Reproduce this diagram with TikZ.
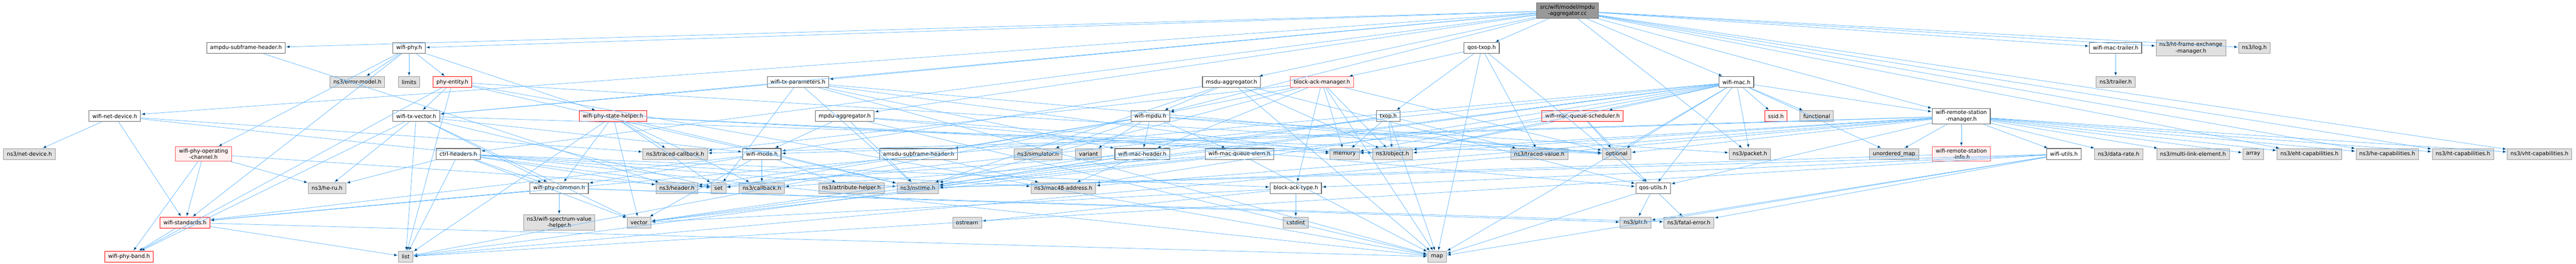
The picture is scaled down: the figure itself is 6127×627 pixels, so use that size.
\documentclass[tikz,border=0pt]{standalone}
\usepackage{fontspec}
\setmainfont{DejaVu Sans}
\usetikzlibrary{arrows.meta}

\definecolor{edgeblue}{HTML}{63B8FF}
\definecolor{boxgrey}{HTML}{666666}
\definecolor{extgrey}{HTML}{999999}
\definecolor{extfill}{HTML}{E0E0E0}
\definecolor{trunfill}{HTML}{FFF0F0}
\definecolor{trunred}{HTML}{FF0000}
\definecolor{trunpink}{HTML}{F85656}

\tikzset{
	hfile/.style={draw=boxgrey, fill=white, line width=1.1pt, inner xsep=6pt, inner ysep=3.5pt,
		minimum height=19.5pt, align=center, font=\fontsize{9.6}{11.5}\selectfont},
	sysfile/.style={hfile, draw=extgrey, fill=extfill, line width=0.8pt},
	trunfile/.style={hfile, draw=trunred, fill=trunfill, line width=0.8pt},
	trunfile2/.style={hfile, draw=trunpink, fill=trunfill, line width=0.8pt},
	rootfile/.style={hfile, draw=boxgrey, fill=extgrey, line width=0.8pt},
	dep/.style={draw=edgeblue, line width=0.7pt, -{Latex[length=7.5pt,width=5.5pt]}}
}

\begin{document}
\begin{tikzpicture}[x=0.75pt, y=-0.75pt]
			%%%%% START %%%%%
			
			\useasboundingbox[fill=white] (0, 0) rectangle (6127, 627);
			
			% rank 0
			\node[rootfile] (R) at (3728, 25) {src/wifi/model/mpdu\\-aggregator.cc};
			
			% rank 1
			\node[hfile] (ampdu) at (585, 114) {ampdu-subframe-header.h};
			\node[hfile] (wphy) at (973, 114) {wifi-phy.h};
			\node[hfile] (qtxop) at (3524, 114) {qos-txop.h};
			\node[hfile] (trailerh) at (5032, 114) {wifi-mac-trailer.h};
			\node[sysfile] (htfem) at (5211, 114) {ns3/ht-frame-exchange\\-manager.h};
			\node[sysfile] (log) at (5362, 114) {ns3/log.h};
			
			% rank 2
			\node[sysfile] (errm) at (850, 195) {ns3/error-model.h};
			\node[sysfile] (lim) at (973, 195) {limits};
			\node[trunfile] (phyent) at (1076, 195) {phy-entity.h};
			\node[hfile] (txpar) at (1898, 195) {wifi-tx-parameters.h};
			\node[hfile] (msdua) at (2929, 195) {msdu-aggregator.h};
			\node[trunfile2] (bam) at (3144, 195) {block-ack-manager.h};
			\node[hfile] (wmac) at (4130, 195) {wifi-mac.h};
			\node[sysfile] (trailer) at (5032, 195) {ns3/trailer.h};
			
			% rank 3
			\node[hfile] (wnd) at (273, 276) {wifi-net-device.h};
			\node[hfile] (txvec) at (990, 276) {wifi-tx-vector.h};
			\node[trunfile] (psh) at (1458, 276) {wifi-phy-state-helper.h};
			\node[hfile] (mpdua) at (2009, 276) {mpdu-aggregator.h};
			\node[hfile] (mpdu) at (2736, 276) {wifi-mpdu.h};
			\node[hfile] (txop) at (3302, 276) {txop.h};
			\node[trunfile] (sched) at (3764, 276) {wifi-mac-queue-scheduler.h};
			\node[trunfile] (ssid) at (4224, 276) {ssid.h};
			\node[sysfile] (functional) at (4321, 276) {functional};
			\node[hfile] (rsm) at (4665, 276) {wifi-remote-station\\-manager.h};
			
			% rank 4
			\node[sysfile] (netdev) at (70, 366) {ns3/net-device.h};
			\node[trunfile2] (opch) at (484, 366) {wifi-phy-operating\\-channel.h};
			\node[hfile] (ctrl) at (1090, 366) {ctrl-headers.h};
			\node[sysfile] (tcb) at (1606, 366) {ns3/traced-callback.h};
			\node[hfile] (wmode) at (1812, 366) {wifi-mode.h};
			\node[hfile] (amsdu) at (2185, 366) {amsdu-subframe-header.h};
			\node[sysfile] (sim) at (2469, 366) {ns3/simulator.h};
			\node[sysfile] (variant) at (2589, 366) {variant};
			\node[hfile] (mach) at (2717, 366) {wifi-mac-header.h};
			\node[hfile] (qelem) at (2948, 366) {wifi-mac-queue-elem.h};
			\node[sysfile] (memory) at (3198, 366) {memory};
			\node[sysfile] (object) at (3312, 366) {ns3/object.h};
			\node[sysfile] (tval) at (3661, 366) {ns3/traced-value.h};
			\node[sysfile] (optional) at (3845, 366) {optional};
			\node[sysfile] (packet) at (4162, 366) {ns3/packet.h};
			\node[sysfile] (umap) at (4505, 366) {unordered\_map};
			\node[trunfile2] (rsi) at (4665, 366) {wifi-remote-station\\-info.h};
			\node[hfile] (wutils) at (4909, 366) {wifi-utils.h};
			\node[sysfile] (drate) at (5039, 366) {ns3/data-rate.h};
			\node[sysfile] (mle) at (5216, 366) {ns3/multi-link-element.h};
			\node[sysfile] (array) at (5359, 366) {array};
			\node[sysfile] (ehtcap) at (5493, 366) {ns3/eht-capabilities.h};
			\node[sysfile] (hecap) at (5678, 366) {ns3/he-capabilities.h};
			\node[sysfile] (htcap) at (5858, 366) {ns3/ht-capabilities.h};
			\node[sysfile] (vhtcap) at (6040, 366) {ns3/vht-capabilities.h};
			
			% rank 5
			\node[sysfile] (heru) at (778, 447) {ns3/he-ru.h};
			\node[hfile] (pcommon) at (1330, 447) {wifi-phy-common.h};
			\node[sysfile] (hdr) at (1610, 447) {ns3/header.h};
			\node[sysfile] (set) at (1709, 447) {set};
			\node[sysfile] (cb) at (1812, 447) {ns3/callback.h};
			\node[sysfile] (attr) at (2025, 447) {ns3/attribute-helper.h};
			\node[sysfile] (nstime) at (2183, 447) {ns3/nstime.h};
			\node[sysfile] (mac48) at (2529, 447) {ns3/mac48-address.h};
			\node[hfile] (batype) at (3082, 447) {block-ack-type.h};
			\node[hfile] (qutils) at (3932, 447) {qos-utils.h};
			
			% rank 6
			\node[trunfile] (wstd) at (440, 529) {wifi-standards.h};
			\node[sysfile] (svh) at (1330, 529) {ns3/wifi-spectrum-value\\-helper.h};
			\node[sysfile] (vector) at (1520, 529) {vector};
			\node[sysfile] (ostream) at (2300, 529) {ostream};
			\node[sysfile] (cstdint) at (3082, 529) {cstdint};
			\node[sysfile] (ptr) at (3890, 529) {ns3/ptr.h};
			\node[sysfile] (fatal) at (4017, 529) {ns3/fatal-error.h};
			
			% rank 7
			\node[trunfile] (band) at (307, 610) {wifi-phy-band.h};
			\node[sysfile] (list) at (965, 610) {list};
			\node[sysfile] (map) at (3418, 610) {map};
			
			% includes
			\draw[dep] (R) edge (ampdu) edge (wphy) edge (wnd) edge (txvec) edge (ctrl) edge (txpar)
				edge (mpdua) edge (msdua) edge (mpdu) edge (qtxop) edge (wmac) edge (rsm) edge (trailerh)
				edge (htfem) edge (log) edge (packet) edge (ehtcap) edge (hecap) edge (htcap) edge (vhtcap);
			\draw[dep] (ampdu) edge (hdr);
			\draw[dep] (wphy) edge (errm) edge (lim) edge (phyent) edge (psh) edge (opch) edge (wstd);
			\draw[dep] (phyent) edge (txvec) edge (band) edge (list) edge (map) edge (nstime) edge (optional);
			\draw[dep] (wnd) edge (netdev) edge (wstd) edge (tcb) edge (map);
			\draw[dep] (txvec) edge (wmode) edge (pcommon) edge (heru) edge (band) edge (list) edge (vector)
				edge (set) edge (optional);
			\draw[dep] (opch) edge (heru) edge (wstd) edge (band) edge (set);
			\draw[dep] (ctrl) edge (heru) edge (list) edge (pcommon) edge (hdr) edge (vector) edge (set)
				edge (mac48) edge (nstime) edge (batype);
			\draw[dep] (wstd) edge (band) edge (list) edge (map);
			\draw[dep] (psh) edge (tcb) edge (pcommon) edge (cb) edge (nstime) edge (object) edge (list)
				edge (memory) edge (vector) edge (set);
			\draw[dep] (txpar) edge (txvec) edge (mach) edge (nstime) edge (map) edge (memory) edge (set)
				edge (optional);
			\draw[dep] (mpdua) edge (wmode) edge (qutils) edge (nstime) edge (object) edge (map);
			\draw[dep] (wmode) edge (pcommon) edge (wstd) edge (cb) edge (attr) edge (vector);
			\draw[dep] (pcommon) edge (wstd) edge (svh) edge (fatal) edge (ptr);
			\draw[dep] (msdua) edge (mpdu) edge (wmode) edge (qutils) edge (nstime) edge (object) edge (map);
			\draw[dep] (bam) edge (mpdu) edge (mach) edge (batype) edge (memory) edge (object) edge (tcb)
				edge (optional) edge (map) edge (nstime);
			\draw[dep] (mpdu) edge (amsdu) edge (mach) edge (qelem) edge (sim) edge (variant) edge (packet)
				edge (list) edge (optional) edge (set);
			\draw[dep] (amsdu) edge (hdr) edge (mac48);
			\draw[dep] (mach) edge (hdr) edge (mac48) edge (nstime);
			\draw[dep] (qelem) edge (nstime) edge (cb) edge (map);
			\draw[dep] (batype) edge (cstdint) edge (ostream) edge (vector);
			\draw[dep] (qtxop) edge (bam) edge (txop) edge (qutils) edge (tval) edge (map);
			\draw[dep] (txop) edge (memory) edge (object) edge (tval) edge (map) edge (nstime) edge (vector);
			\draw[dep] (sched) edge (object) edge (optional) edge (qutils) edge (vector);
			\draw[dep] (qutils) edge (ptr) edge (fatal) edge (map);
			\draw[dep] (wmac) edge (ssid) edge (functional) edge (rsm) edge (sched) edge (packet) edge (umap)
				edge (qutils) edge (optional) edge (memory) edge (object) edge (mac48) edge (wstd)
				edge (list) edge (map) edge (set) edge (vector);
			\draw[dep] (rsm) edge (rsi) edge (umap) edge (wutils) edge (drate) edge (mle) edge (array)
				edge (ehtcap) edge (hecap) edge (htcap) edge (vhtcap) edge (qutils) edge (wmode)
				edge (mac48) edge (object) edge (tcb) edge (list) edge (memory) edge (optional);
			\draw[dep] (rsi) edge (nstime);
			\draw[dep] (wutils) edge (batype) edge (fatal) edge (ptr) edge (nstime) edge (list) edge (map);
			\draw[dep] (trailerh) edge (trailer);
			
			%%%%% END %%%%%
		\end{tikzpicture}
\end{document}
